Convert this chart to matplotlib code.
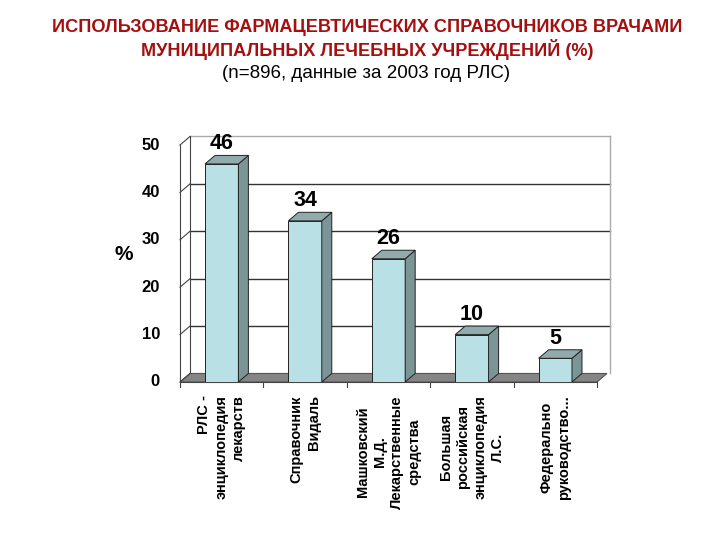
import matplotlib.pyplot as plt
from matplotlib.patches import Polygon

categories = ["РЛС -\nэнциклопедия\nлекарств",
              "Справочник\nВидаль",
              "Машковский\nМ.Д.\nЛекарственные\nсредства",
              "Большая\nроссийская\nэнциклопедия\nЛ.С.",
              "Федерально\nруководство..."]
values = [46, 34, 26, 10, 5]
yticks = [0, 10, 20, 30, 40, 50]

title1 = "ИСПОЛЬЗОВАНИЕ ФАРМАЦЕВТИЧЕСКИХ СПРАВОЧНИКОВ ВРАЧАМИ"
title2 = "МУНИЦИПАЛЬНЫХ ЛЕЧЕБНЫХ УЧРЕЖДЕНИЙ (%)"
subtitle = "(n=896, данные за 2003 год РЛС)"

plt.rcParams['font.family'] = ['Liberation Sans', 'DejaVu Sans']

fig = plt.figure(figsize=(7.2, 5.4), dpi=100)
# axes placed so that slot 0..5 and 0..50 % map onto the front plane
ax = fig.add_axes([180 / 720, 158 / 540, 417 / 720, 237 / 540])
ax.set_xlim(0, 5)
ax.set_ylim(0, 50)
ax.axis('off')

# depth offset of the pseudo 3d box (data units)
dx, dy = 0.12, 1.8
xr = 5.15  # right edge of back wall

# floor
ax.add_patch(Polygon([(0, 0), (5, 0), (5 + dx, dy), (dx, dy)], closed=True,
                     facecolor='#858585', edgecolor='#555555', lw=0.8,
                     clip_on=False, zorder=1))

# back wall gridlines and left wall edges
for v in yticks:
    col = '#333333' if 0 < v < 50 else '#aaaaaa'
    if v > 0:
        ax.plot([dx, xr], [v + dy, v + dy], color=col, lw=1, clip_on=False, zorder=1)
    ax.plot([0, dx], [v, v + dy], color='#444444', lw=0.8, clip_on=False, zorder=1)
    ax.text(-0.24, v, str(v), ha='right', va='center', fontsize=12,
            fontweight='bold')
ax.plot([dx, dx], [dy, 50 + dy], color='#444444', lw=0.8, clip_on=False, zorder=1)
ax.plot([xr, xr], [dy, 50 + dy], color='#aaaaaa', lw=1, clip_on=False, zorder=1)
ax.plot([0, 0], [0, 50], color='#444444', lw=0.8, clip_on=False, zorder=1)

# x axis line with ticks
ax.plot([0, 5], [0, 0], color='#444444', lw=0.8, clip_on=False, zorder=3)
for i in range(6):
    ax.plot([i, i], [0, -1.1], color='#444444', lw=0.8, clip_on=False, zorder=3)

# bars
x = [i + 0.5 for i in range(len(values))]
w = 0.40
ax.bar(x, values, width=w, color='#b9e0e4', edgecolor='#222222', lw=0.7,
       zorder=4)
for xi, v in zip(x, values):
    x0, x1 = xi - w / 2, xi + w / 2
    ax.add_patch(Polygon([(x1, 0), (x1 + dx, dy), (x1 + dx, v + dy), (x1, v)],
                         closed=True, facecolor='#7b9596', edgecolor='#222222',
                         lw=0.7, zorder=4))
    ax.add_patch(Polygon([(x0, v), (x1, v), (x1 + dx, v + dy), (x0 + dx, v + dy)],
                         closed=True, facecolor='#91abad', edgecolor='#222222',
                         lw=0.7, zorder=4))
    ax.text(xi, v + dy + 0.2, str(v), ha='center', va='bottom',
            fontsize=15.5, fontweight='bold', zorder=5)

# category labels
aligns = ['right', 'right', 'center', 'center', 'center']
for xi, lab, al in zip(x, categories, aligns):
    ax.text(xi, -2.8, lab, rotation=90, ha='center', va='top',
            multialignment=al, fontsize=10.5, fontweight='bold',
            linespacing=1.3)

ax.text(-0.67, 27, "%", ha='center', va='center', fontsize=15, fontweight='bold')

fig.text(367 / 720, 1 - 27 / 540, title1, ha='center', va='center',
         fontsize=13.1, fontweight='bold', color='#a50f0f')
fig.text(367 / 720, 1 - 49 / 540, title2, ha='center', va='center',
         fontsize=13.1, fontweight='bold', color='#a50f0f')
fig.text(366 / 720, 1 - 74 / 540, subtitle, ha='center', va='center',
         fontsize=13.5, color='black')

fig.savefig("out.png", dpi=100)
